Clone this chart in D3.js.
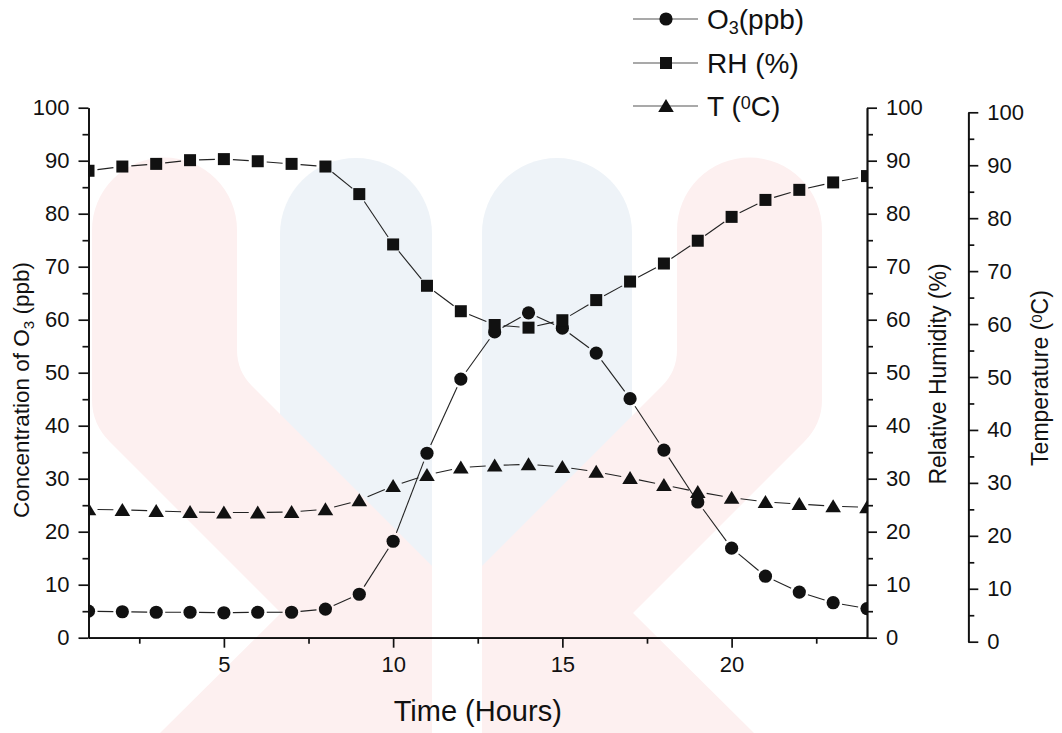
<!DOCTYPE html>
<html><head><meta charset="utf-8">
<script src="https://cdn.jsdelivr.net/npm/d3@7"></script>
<style>
body{margin:0;background:#fff}
svg{display:block}
text{font-family:Arial,"Liberation Sans",sans-serif;fill:#111}
</style>
</head><body>
<svg id="c" width="1062" height="733"></svg>
<script>
// ---- data ----
const hours = [1,2,3,4,5,6,7,8,9,10,11,12,13,14,15,16,17,18,19,20,21,22,23,24];
const o3   = [5.0,4.9,4.8,4.8,4.7,4.8,4.8,5.4,8.2,18.2,34.8,48.8,57.7,61.3,58.4,53.7,45.1,35.4,25.6,16.9,11.6,8.6,6.6,5.5];
const rh   = [88.1,88.9,89.4,90.1,90.3,89.9,89.4,88.9,83.7,74.2,66.4,61.6,59.0,58.5,59.9,63.7,67.2,70.6,74.9,79.4,82.6,84.5,85.9,87.1];
const temp = [25.0,24.9,24.7,24.5,24.4,24.4,24.5,25.0,26.7,29.4,31.5,32.9,33.3,33.5,33.0,32.1,30.9,29.6,28.3,27.2,26.4,26.0,25.6,25.4];
const xTicks = [5,10,15,20];
const xMinor = [2.5,7.5,12.5,17.5,22.5];
const yTicks = [0,10,20,30,40,50,60,70,80,90,100];
const yMinor = [5,15,25,35,45,55,65,75,85,95];

const svg = d3.select("#c");

// ---- faint background logo (watermark) ----
const wm = svg.append("g");
const blue = "#eef3f8", pink = "#fdf0f0";
function bar(x0,x1,top,bottom){
  const r=(x1-x0)/2;
  return `M${x0},${bottom}L${x0},${top+r}A${r},${r} 0 0 1 ${x1},${top+r}L${x1},${bottom}Z`;
}
wm.append("path").attr("d",bar(280,432,158,733)).attr("fill",blue);
wm.append("path").attr("d",bar(482,632,158,733)).attr("fill",blue);
wm.append("path").attr("d","M92,230A72.5,72.5 0 0 1 237,230L237,350Q237,371 252,386L432,566L432,733L160,733L281,613L110,442Q92,424 92,400Z").attr("fill",pink);
wm.append("path").attr("d","M677,230A72.5,72.5 0 0 1 822,230L822,400Q822,424 804,442L633,613L754,733L482,733L482,566L662,386Q677,371 677,350Z").attr("fill",pink);

// ---- scales ----
const x  = d3.scaleLinear().domain([1,24]).range([88.5,867]);
const yL = d3.scaleLinear().domain([0,100]).range([637.7,107.7]);
const yR = d3.scaleLinear().domain([0,100]).range([637.7,107.7]);
const yT = d3.scaleLinear().domain([0,100]).range([641.7,112.3]);
const xT = 968.3;

function styleAxis(g, fs){
  g.selectAll(".domain").attr("stroke","#111").attr("stroke-width",1.7);
  g.selectAll(".tick line").attr("stroke","#111").attr("stroke-width",1.7);
  g.selectAll(".tick text").style("font-size",fs+"px").attr("fill","#111").style("font-family","Arial, 'Liberation Sans', sans-serif");
}
const FS = 22;

// x axis
const gx = svg.append("g").attr("transform",`translate(0,${yL(0)})`)
  .call(d3.axisBottom(x).tickValues(xTicks).tickSize(10).tickSizeOuter(0).tickPadding(9));
styleAxis(gx,FS);
const gxm = svg.append("g").attr("transform",`translate(0,${yL(0)})`)
  .call(d3.axisBottom(x).tickValues(xMinor).tickSize(6).tickFormat("").tickSizeOuter(0));
styleAxis(gxm,FS);

// left axis
const gl = svg.append("g").attr("transform",`translate(${x(1)},0)`)
  .call(d3.axisLeft(yL).tickValues(yTicks).tickSize(10).tickSizeOuter(0).tickPadding(9));
styleAxis(gl,FS);
const glm = svg.append("g").attr("transform",`translate(${x(1)},0)`)
  .call(d3.axisLeft(yL).tickValues(yMinor).tickSize(6).tickFormat("").tickSizeOuter(0));
styleAxis(glm,FS);

// right axis (RH)
const gr = svg.append("g").attr("transform",`translate(${x(24)},0)`)
  .call(d3.axisRight(yR).tickValues(yTicks).tickSize(10).tickSizeOuter(0).tickPadding(9));
styleAxis(gr,FS);
const grm = svg.append("g").attr("transform",`translate(${x(24)},0)`)
  .call(d3.axisRight(yR).tickValues(yMinor).tickSize(6).tickFormat("").tickSizeOuter(0));
styleAxis(grm,FS);

// third axis (T)
const gt = svg.append("g").attr("transform",`translate(${xT},0)`)
  .call(d3.axisRight(yT).tickValues(yTicks).tickSize(10).tickSizeOuter(0).tickPadding(9));
styleAxis(gt,FS);
const gtm = svg.append("g").attr("transform",`translate(${xT},0)`)
  .call(d3.axisRight(yT).tickValues(yMinor).tickSize(6).tickFormat("").tickSizeOuter(0));
styleAxis(gtm,FS);

// ---- axis titles ----
svg.append("text").attr("x",(x(1)+x(24))/2).attr("y",721).attr("text-anchor","middle")
  .style("font-size","29px").text("Time (Hours)");

const lt = svg.append("text").attr("transform",`translate(29,390) rotate(-90)`)
  .attr("text-anchor","middle").style("font-size","22.5px");
lt.append("tspan").text("Concentration of O");
lt.append("tspan").attr("baseline-shift","-30%").style("font-size","15px").text("3");
lt.append("tspan").text(" (ppb)");

svg.append("text").attr("transform",`translate(946,374)rotate(-90)`)
  .attr("text-anchor","middle").style("font-size","23px").text("Relative Humidity (%)");

const tt = svg.append("text").attr("transform",`translate(1048,378)rotate(-90)`)
  .attr("text-anchor","middle").style("font-size","23px");
tt.append("tspan").text("Temperature (");
tt.append("tspan").attr("baseline-shift","40%").style("font-size","15px").text("0");
tt.append("tspan").text("C)");

// ---- series ----
const clipId="plotclip";
svg.append("clipPath").attr("id",clipId).append("rect")
  .attr("x",x(1)).attr("y",0).attr("width",x(24)-x(1)).attr("height",733);

const series = [
  {vals:o3, y:yL, shape:"circle", gap:9},
  {vals:rh, y:yR, shape:"square", gap:9},
  {vals:temp, y:yT, shape:"triangle", gap:9}
];
function marker(g, shape, cx, cy){
  if(shape==="circle") g.append("circle").attr("cx",cx).attr("cy",cy).attr("r",6.6).attr("fill","#111");
  else if(shape==="square") g.append("rect").attr("x",cx-6).attr("y",cy-6).attr("width",12).attr("height",12).attr("fill","#111");
  else g.append("path").attr("d",`M${cx},${cy-7}L${cx+7.8},${cy+6}L${cx-7.8},${cy+6}Z`).attr("fill","#111");
}
const plot = svg.append("g").attr("clip-path",`url(#${clipId})`);
series.forEach(s=>{
  const pts = hours.map((h,i)=>[x(h), s.y(s.vals[i])]);
  for(let i=0;i<pts.length-1;i++){
    const [x0,y0]=pts[i],[x1,y1]=pts[i+1];
    const dx=x1-x0, dy=y1-y0, L=Math.hypot(dx,dy);
    if(L<=2*s.gap) continue;
    const ux=dx/L, uy=dy/L;
    plot.append("line").attr("x1",x0+ux*s.gap).attr("y1",y0+uy*s.gap)
      .attr("x2",x1-ux*s.gap).attr("y2",y1-uy*s.gap)
      .attr("stroke","#222").attr("stroke-width",1.1);
  }
  pts.forEach(p=>marker(plot, s.shape, p[0], p[1]));
});

// ---- legend ----
const legendItems = [
  {shape:"circle", y:19, parts:[["O",""],["3","sub"],["(ppb)",""]]},
  {shape:"square", y:63, parts:[["RH (%)",""]]},
  {shape:"triangle", y:106, parts:[["T (",""],["0","sup"],["C)",""]]}
];
const lg = svg.append("g");
legendItems.forEach(it=>{
  lg.append("line").attr("x1",633).attr("x2",698).attr("y1",it.y).attr("y2",it.y)
    .attr("stroke","#555").attr("stroke-width",1.2);
  marker(lg, it.shape, 666, it.y);
  const t = lg.append("text").attr("x",707).attr("y",it.y+10).style("font-size","28px");
  it.parts.forEach(([s,k])=>{
    const ts=t.append("tspan").text(s);
    if(k==="sub") ts.attr("baseline-shift","-30%").style("font-size","18px");
    if(k==="sup") ts.attr("baseline-shift","40%").style("font-size","18px");
  });
});
</script>
</body></html>
